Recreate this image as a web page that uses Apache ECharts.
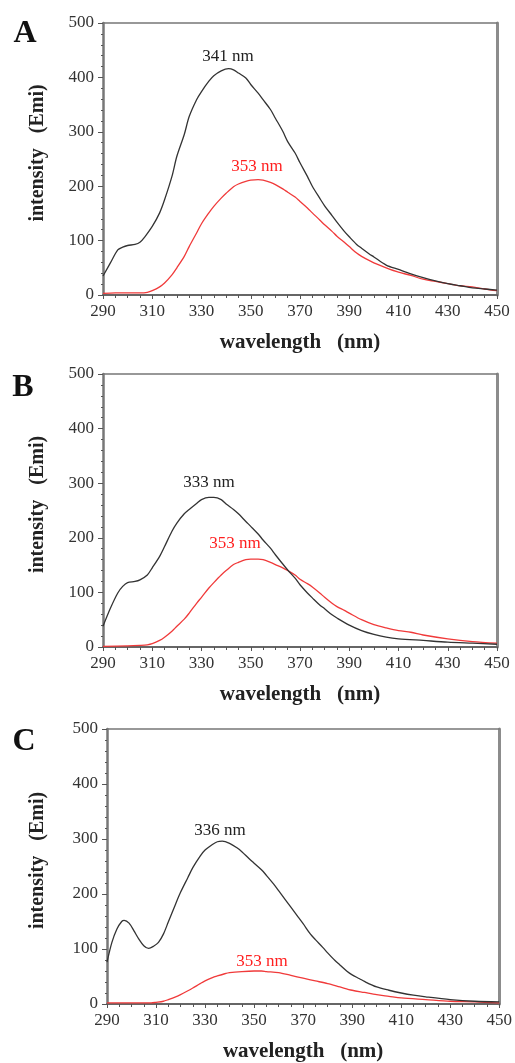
<!DOCTYPE html>
<html>
<head>
<meta charset="utf-8">
<script src="https://cdn.jsdelivr.net/npm/echarts@6/dist/echarts.min.js"></script>
<style>
  html, body { margin: 0; padding: 0; background: #fff; }
  #chart { width: 515px; height: 1063px; }
</style>
</head>
<body>
<div id="chart"></div>
<script>
// ---- data ----
var xTicks = [290, 310, 330, 350, 370, 390, 410, 430, 450];
var yTicks = [0, 100, 200, 300, 400, 500];

// panel A
var waveA1 = [290,293,296,298,300,303,305,307,310,313,315,318,320,323,325,328,330,333,335,338,341,343,345,348,350,353,355,358,360,363,365,368,370,373,375,378,380,383,385,388,390,393,395,398,400,405,410,415,420,425,430,435,440,445,450];
var emiA1 = [35,59,83,88,91,93,97,107,126,151,175,218,255,295,328,359,374,393,403,412,416,414,408,399,387,371,359,341,325,301,282,261,243,218,200,178,164,146,134,117,107,93,86,76,70,55,47,39,32,26,21,17,13,11,9];
var waveA2 = [290,295,300,305,308,310,313,315,318,320,323,325,328,330,333,335,338,340,343,345,348,350,353,355,358,360,363,365,368,370,373,375,378,380,383,385,388,390,393,395,400,405,410,415,420,425,430,435,440,445,450];
var emiA2 = [3,4,4,4,5,8,15,22,37,50,71,89,114,131,151,163,178,187,199,204,209,211,212,211,207,203,195,189,180,172,160,151,138,129,117,108,97,89,77,71,59,50,42,36,29,25,21,17,15,11,8];

// panel B
var waveB1 = [290,293,296,298,300,303,305,308,310,313,315,318,320,323,325,328,330,333,335,338,340,343,345,348,350,353,355,358,360,363,365,368,370,373,375,378,380,383,385,390,395,400,405,410,420,430,440,450];
var emiB1 = [38,71,99,111,118,120,123,132,145,166,184,212,227,244,252,263,270,274,274,270,262,252,244,230,221,207,196,181,169,152,141,126,114,99,90,77,70,59,53,40,30,23,18,15,12,9,7,5];
var waveB2 = [290,300,305,308,310,313,315,318,320,323,325,328,330,333,335,338,340,343,345,348,350,353,355,358,360,363,365,368,370,373,375,378,380,383,385,388,390,395,400,405,410,415,420,430,440,450];
var emiB2 = [1,2,3,4,6,12,18,29,38,51,62,80,91,108,118,132,140,151,155,160,161,161,160,155,151,145,140,132,124,116,110,99,91,80,74,67,62,50,41,35,30,27,22,15,10,7];

// panel C
var waveC1 = [290,292,294,296,297,299,301,303,305,307,309,311,313,315,318,320,323,325,328,330,333,335,337,340,343,345,348,350,353,355,358,360,363,365,368,370,373,375,378,380,383,385,388,390,393,395,400,405,410,415,420,430,440,450];
var emiC1 = [76,112,136,150,152,147,133,118,106,101,105,112,127,149,182,203,230,248,269,280,290,295,296,292,284,277,264,256,244,234,218,206,188,176,158,146,127,117,103,93,79,71,59,53,46,41,31,25,20,16,13,8,5,4];
var waveC2 = [290,300,308,310,313,315,318,320,323,325,328,330,333,335,338,340,345,350,353,355,360,365,370,375,380,385,390,395,400,405,410,420,430,440,450];
var emiC2 = [2,2,2,3,5,8,13,17,24,29,37,42,48,51,55,57,59,60,60,59,57,52,47,42,37,31,25,21,17,14,11,8,5,4,2];

var panelLetters = ['A', 'B', 'C'];
var peakLabels = [['341 nm', '353 nm'], ['333 nm', '353 nm'], ['336 nm', '353 nm']];

var serif = '"Liberation Serif", "DejaVu Serif", serif';
var black = '#333333';
var red = '#f03a3a';

function zip(xs, ys) {
  return xs.map(function(x, i) { return [x, ys[i]]; });
}

var panels = [
  { grid: { left: 103, right: 18, top: 23, height: 272 }, s1: zip(waveA1, emiA1), s2: zip(waveA2, emiA2), nameGapY: 55,
    letter: [25, 34], lab1: [228, 57], lab2: [257, 167] },
  { grid: { left: 103, right: 18, top: 374, height: 273 }, s1: zip(waveB1, emiB1), s2: zip(waveB2, emiB2), nameGapY: 55,
    letter: [23, 388], lab1: [209, 483], lab2: [235, 544] },
  { grid: { left: 107, right: 14, top: 729, height: 276 }, s1: zip(waveC1, emiC1), s2: zip(waveC2, emiC2), nameGapY: 59,
    letter: [24, 742], lab1: [220, 831], lab2: [262, 962] }
];

var grids = [], xAxes = [], yAxes = [], series = [], graphics = [];

panels.forEach(function(p, i) {
  grids.push(p.grid);
  // bottom axis
  xAxes.push({
    type: 'value', gridIndex: i, min: xTicks[0], max: xTicks[xTicks.length - 1], interval: 20,
    name: 'wavelength   (nm)', nameLocation: 'middle', nameGap: 37,
    nameTextStyle: { fontFamily: serif, fontWeight: 'bold', fontSize: 21, color: '#222' },
    axisLine: { onZero: false, lineStyle: { color: '#666', width: 2 } },
    axisTick: { length: 4, lineStyle: { color: '#555' } },
    minorTick: { show: true, splitNumber: 4, length: 3, lineStyle: { color: '#555' } },
    axisLabel: { fontFamily: serif, fontSize: 17, color: '#333', margin: 8 },
    splitLine: { show: false }
  });
  // top frame line
  xAxes.push({
    type: 'value', gridIndex: i, position: 'top', min: xTicks[0], max: xTicks[xTicks.length - 1],
    axisLine: { show: true, onZero: false, lineStyle: { color: '#777', width: 1.5 } },
    axisTick: { show: false }, axisLabel: { show: false }, splitLine: { show: false }
  });
  // left axis
  yAxes.push({
    type: 'value', gridIndex: i, min: yTicks[0], max: yTicks[yTicks.length - 1], interval: 100,
    name: 'intensity   (Emi)', nameLocation: 'middle', nameGap: p.nameGapY,
    nameTextStyle: { fontFamily: serif, fontWeight: 'bold', fontSize: 20, color: '#222', padding: [0, 0, 0, 12] },
    axisLine: { show: true, onZero: false, lineStyle: { color: '#777', width: 2.5 } },
    axisTick: { show: true, length: 5, lineStyle: { color: '#555' } },
    minorTick: { show: true, splitNumber: 5, length: 2, lineStyle: { color: '#555' } },
    axisLabel: { fontFamily: serif, fontSize: 17, color: '#333', margin: 9 },
    splitLine: { show: false }
  });
  // right frame line
  yAxes.push({
    type: 'value', gridIndex: i, position: 'right', min: yTicks[0], max: yTicks[yTicks.length - 1],
    axisLine: { show: true, onZero: false, lineStyle: { color: '#8c8c8c', width: 3 } },
    axisTick: { show: false }, axisLabel: { show: false }, splitLine: { show: false }
  });

  series.push({
    type: 'line', xAxisIndex: i * 2, yAxisIndex: i * 2, data: p.s2,
    showSymbol: false, smooth: 0.3, lineStyle: { color: red, width: 1.3 }, z: 3
  });
  series.push({
    type: 'line', xAxisIndex: i * 2, yAxisIndex: i * 2, data: p.s1,
    showSymbol: false, smooth: 0.3, lineStyle: { color: black, width: 1.3 }, z: 4
  });

  graphics.push({
    type: 'text', x: p.letter[0], y: p.letter[1],
    style: { text: panelLetters[i], font: 'bold 32px ' + serif, fill: '#111', align: 'center', verticalAlign: 'middle' }
  });
  graphics.push({
    type: 'text', x: p.lab1[0], y: p.lab1[1],
    style: { text: peakLabels[i][0], font: '17px ' + serif, fill: '#222', align: 'center', verticalAlign: 'middle' }
  });
  graphics.push({
    type: 'text', x: p.lab2[0], y: p.lab2[1],
    style: { text: peakLabels[i][1], font: '17px ' + serif, fill: '#ff1f1f', align: 'center', verticalAlign: 'middle' }
  });
});

var chart = echarts.init(document.getElementById('chart'), null, { renderer: 'canvas' });
chart.setOption({
  animation: false,
  backgroundColor: '#fff',
  grid: grids,
  xAxis: xAxes,
  yAxis: yAxes,
  series: series,
  graphic: graphics
});
window.addEventListener('resize', function() { chart.resize(); });
</script>
</body>
</html>
